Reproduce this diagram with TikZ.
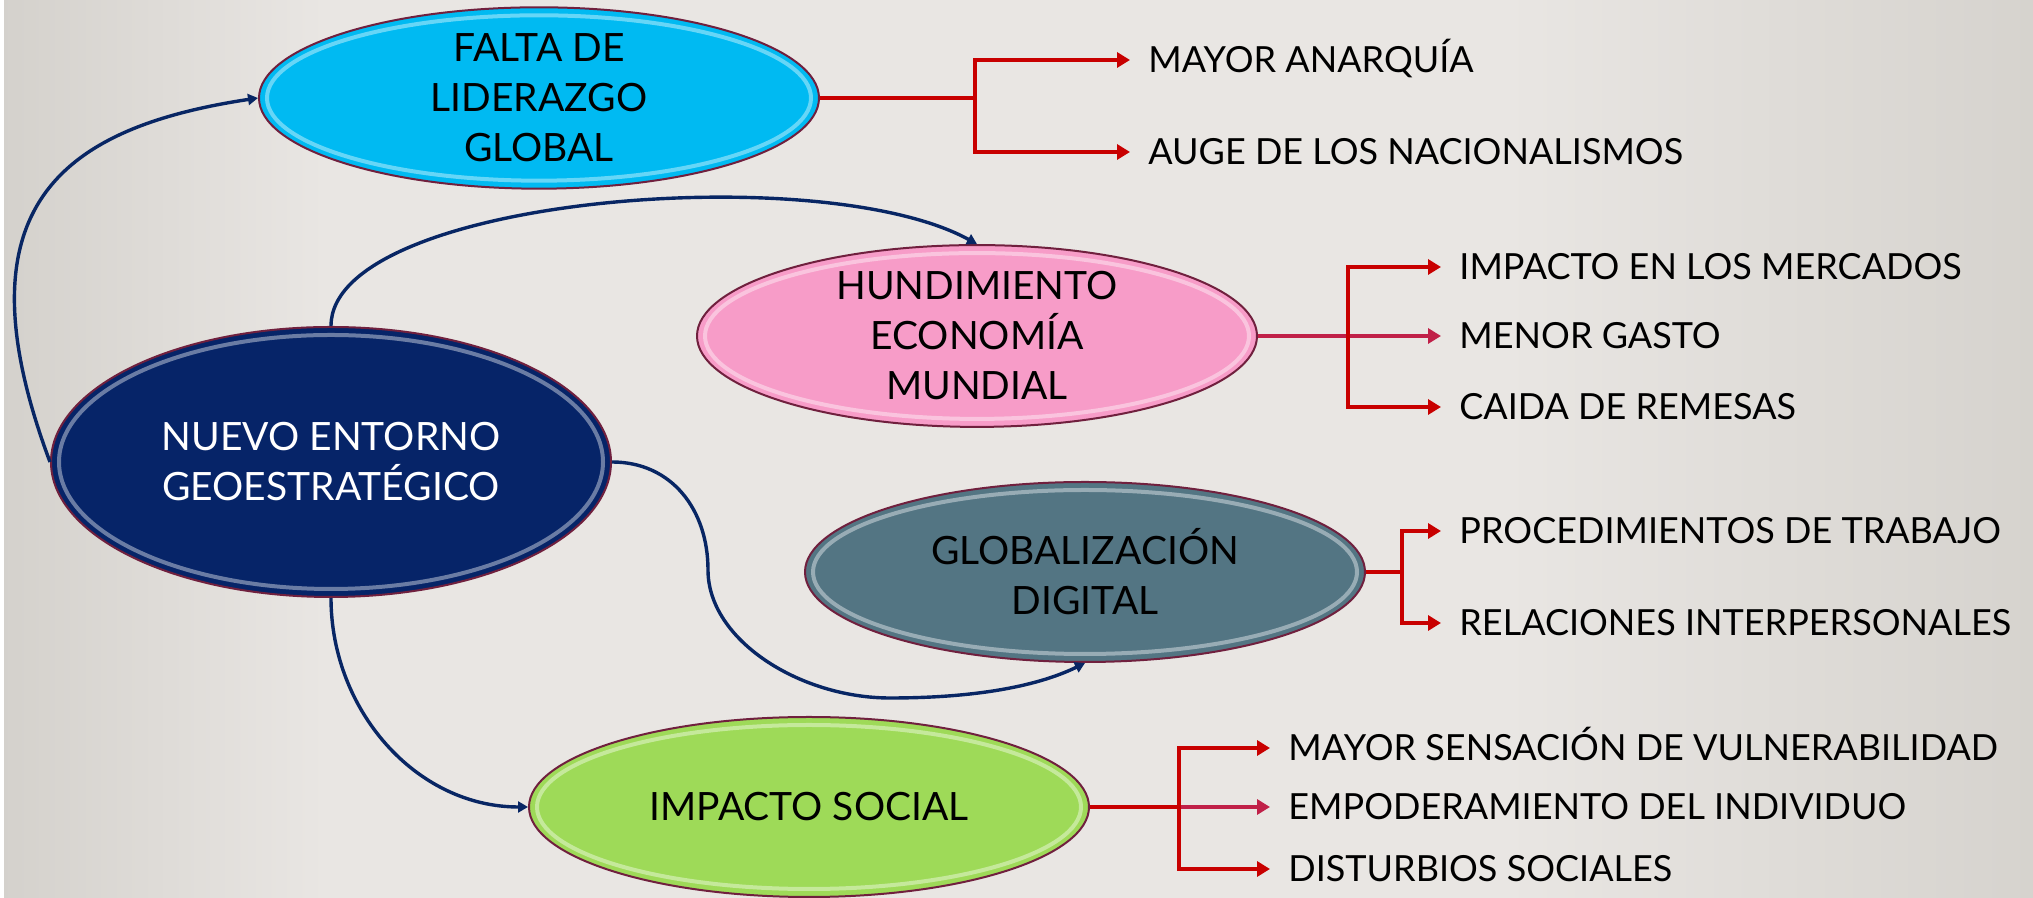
\documentclass[tikz,border=0pt]{standalone}
\usepackage{fontspec}
\setmainfont{Lato}
\usetikzlibrary{shapes.geometric,arrows.meta,calc}

\definecolor{fondoizq}{RGB}{212,209,204}
\definecolor{fondocen}{RGB}{233,230,227}
\definecolor{fondoder}{RGB}{214,211,206}
\definecolor{borde}{RGB}{112,32,62}
\definecolor{cielo}{RGB}{0,186,242}
\definecolor{rosa}{RGB}{247,156,200}
\definecolor{marino}{RGB}{6,36,104}
\definecolor{pizarra}{RGB}{83,117,131}
\definecolor{lima}{RGB}{158,218,88}
\definecolor{azul}{RGB}{8,38,100}
\definecolor{rojo}{RGB}{200,0,0}
\definecolor{carmin}{RGB}{192,32,72}

\pgfdeclarehorizontalshading{fondo}{100bp}{color(0bp)=(fondoizq); color(25bp)=(fondoizq);
  color(33bp)=(fondocen); color(62bp)=(fondocen); color(75bp)=(fondoder); color(100bp)=(fondoder)}

\tikzset{
  bubble/.style={ellipse, draw=borde, line width=1pt, fill=#1, inner sep=0pt,
    minimum width=280pt, minimum height=90pt, align=center,
    font=\fontsize{19.5}{25}\selectfont,
    path picture={\draw[#1!60!white, line width=2pt]
      let \p1=($(path picture bounding box.north east)-(path picture bounding box.center)$) in
      (path picture bounding box.center) ellipse [x radius=\x1-4pt, y radius=\y1-4pt];}},
  item/.style={anchor=west, inner xsep=9pt, inner ysep=0pt, text height=13pt, text depth=0pt,
    font=\fontsize{18}{21}\selectfont},
  enlace/.style={draw=azul, line width=1.7pt, -{Triangle[length=5pt,width=5.5pt]}},
  rama/.style={draw=rojo, line width=2pt},
  flecha/.style={-{Triangle[length=6.5pt,width=7.5pt]}},
}

\begin{document}
\begin{tikzpicture}[x=0.5pt,y=0.5pt]
  \useasboundingbox (0,0) rectangle (2033,898);
  \shade[shading=fondo] (0,0) rectangle (2033,898);
  \fill[white] (0,0) rectangle (4,898);

  % temas
  \node[bubble=cielo] (falta) at (539,800) {FALTA DE\\LIDERAZGO\\GLOBAL};
  \node[bubble=rosa] (hundimiento) at (977,562) {HUNDIMIENTO\\ECONOMÍA\\MUNDIAL};
  \node[bubble=marino, text=white, minimum height=135pt] (entorno) at (331,436) {NUEVO ENTORNO\\GEOESTRATÉGICO};
  \node[bubble=pizarra] (digital) at (1085,326) {GLOBALIZACIÓN\\DIGITAL};
  \node[bubble=lima] (social) at (809,91) {IMPACTO SOCIAL};

  % consecuencias
  \node[item] (anarquia) at (1130,838) {MAYOR ANARQUÍA};
  \node[item] (auge) at (1130,746) {AUGE DE LOS NACIONALISMOS};
  \node[item] (mercados) at (1441,631) {IMPACTO EN LOS MERCADOS};
  \node[item] (gasto) at (1441,562) {MENOR GASTO};
  \node[item] (remesas) at (1441,491) {CAIDA DE REMESAS};
  \node[item] (procedimientos) at (1441,367) {PROCEDIMIENTOS DE TRABAJO};
  \node[item] (relaciones) at (1441,275) {RELACIONES INTERPERSONALES};
  \node[item] (vulnerabilidad) at (1270,150) {MAYOR SENSACIÓN DE VULNERABILIDAD};
  \node[item] (empoderamiento) at (1270,91) {EMPODERAMIENTO DEL INDIVIDUO};
  \node[item] (disturbios) at (1270,29) {DISTURBIOS SOCIALES};

  \coordinate (fbus) at (975,800);
  \coordinate (hbus) at (1348,562);
  \coordinate (dbus) at (1402,326);
  \coordinate (sbus) at (1179,91);

  % flechas azules
  \draw[enlace] (entorno.west) .. controls (-45,690) and (60,770) .. (falta.west);
  \draw[enlace] (entorno.north) .. controls (331,700) and (820,740) .. (hundimiento.north);
  \draw[enlace] (entorno.east) .. controls (672,436) and (708,388) .. (708,328)
    .. controls (708,258) and (800,200) .. (890,200)
    .. controls (980,200) and (1040,213) .. (digital.south);
  \draw[enlace] (entorno.south) to[out=-90, in=180] (social.west);

  % ramas rojas
  \draw[rama] (falta.east) -- (fbus);
  \draw[rama, flecha] (fbus) |- (anarquia.west);
  \draw[rama, flecha] (fbus) |- (auge.west);

  \draw[rama, flecha, draw=carmin] (hundimiento.east) -- (gasto.west);
  \draw[rama, flecha] (hbus) |- (mercados.west);
  \draw[rama, flecha] (hbus) |- (remesas.west);

  \draw[rama] (digital.east) -- (dbus);
  \draw[rama, flecha] (dbus) |- (procedimientos.west);
  \draw[rama, flecha] (dbus) |- (relaciones.west);

  \draw[rama] (social.east) -- (sbus);
  \draw[rama, flecha, draw=carmin] (sbus) -- (empoderamiento.west);
  \draw[rama, flecha] (sbus) |- (vulnerabilidad.west);
  \draw[rama, flecha] (sbus) |- (disturbios.west);
\end{tikzpicture}
\end{document}
